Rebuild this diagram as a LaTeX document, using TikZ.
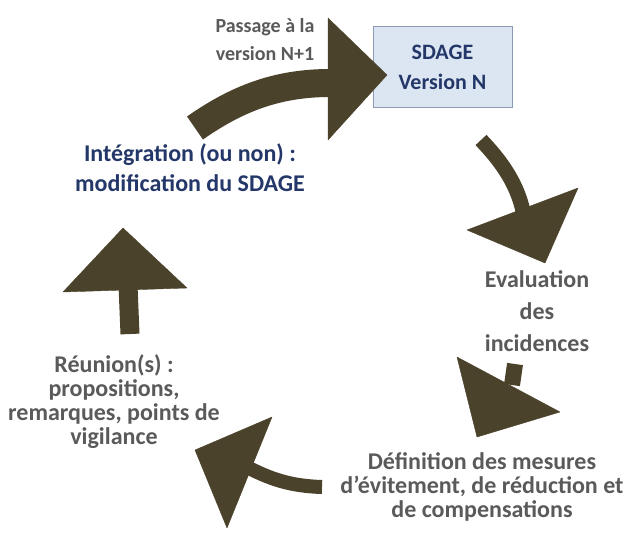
\documentclass[tikz,border=0pt]{standalone}
\usepackage{fontspec}
\setmainfont{Carlito}
\definecolor{arrowc}{RGB}{74,66,42}
\definecolor{greyt}{RGB}{90,90,90}
\definecolor{navyt}{RGB}{36,55,105}
\definecolor{boxfill}{RGB}{220,230,242}
\definecolor{boxdraw}{RGB}{140,155,180}
\begin{document}
\begin{tikzpicture}[x=1pt,y=-1pt,
  lbl/.style={align=center,font=\bfseries\fontsize{24}{24}\selectfont,text=greyt,inner sep=0pt},
  nlbl/.style={align=center,font=\bfseries\fontsize{24}{30}\selectfont,text=navyt,inner sep=0pt},
  body/.style={draw=arrowc,line cap=butt},
  head/.style={fill=arrowc,draw=arrowc,line join=round}]
\useasboundingbox (0,0) rectangle (628,535);
\fill[white] (0,0) rectangle (628,535);

% box
\node[draw=boxdraw,fill=boxfill,line width=1pt,minimum width=139pt,minimum height=80pt,inner sep=0pt,
      align=center,font=\bfseries\fontsize{22}{30}\selectfont,text=navyt] (sdage) at (442.5,67) {SDAGE\\Version N};

% labels
\node[lbl,font=\bfseries\fontsize{20}{28}\selectfont] (pass) at (265,40) {Passage à la\\version N+1};
\node[nlbl] (integ) at (190,168) {Intégration (ou non) :\\modification du SDAGE};
\node[lbl,font=\bfseries\fontsize{24}{32}\selectfont] (eval) at (537,311) {Evaluation\\des\\incidences};
\node[lbl] (defi) at (482,487) {Définition des mesures\\d’évitement, de réduction et\\de compensations};
\node[lbl] (reun) at (114,402) {Réunion(s) :\\propositions,\\remarques, points de\\vigilance};

% top arrow
\draw[body,line width=28pt] (195,128) .. controls (235,100) and (275,83) .. (330,83);
\fill[head] (328,18) -- (387,75) -- (328,140) -- cycle;
% right arrow
\draw[body,line width=15pt] (481,140) .. controls (500,160) and (520,185) .. (525,222);
\fill[head] (467,230) -- (578,188) -- (545,263) -- cycle;
% bottom-right arrow
\draw[body,line width=16pt] (515,364) -- (512,385);
\fill[head] (457,357) -- (560,412) -- (477,437) -- cycle;
% bottom-left arrow
\draw[body,line width=14pt] (322,487) .. controls (290,486) and (270,479) .. (245,466);
\fill[head] (272,417) -- (195,450) -- (227,528) -- cycle;
% left arrow
\draw[body,line width=19pt] (130,334) -- (128,285);
\fill[head] (123,228) -- (63,292) -- (187,288) -- cycle;
\end{tikzpicture}
\end{document}
